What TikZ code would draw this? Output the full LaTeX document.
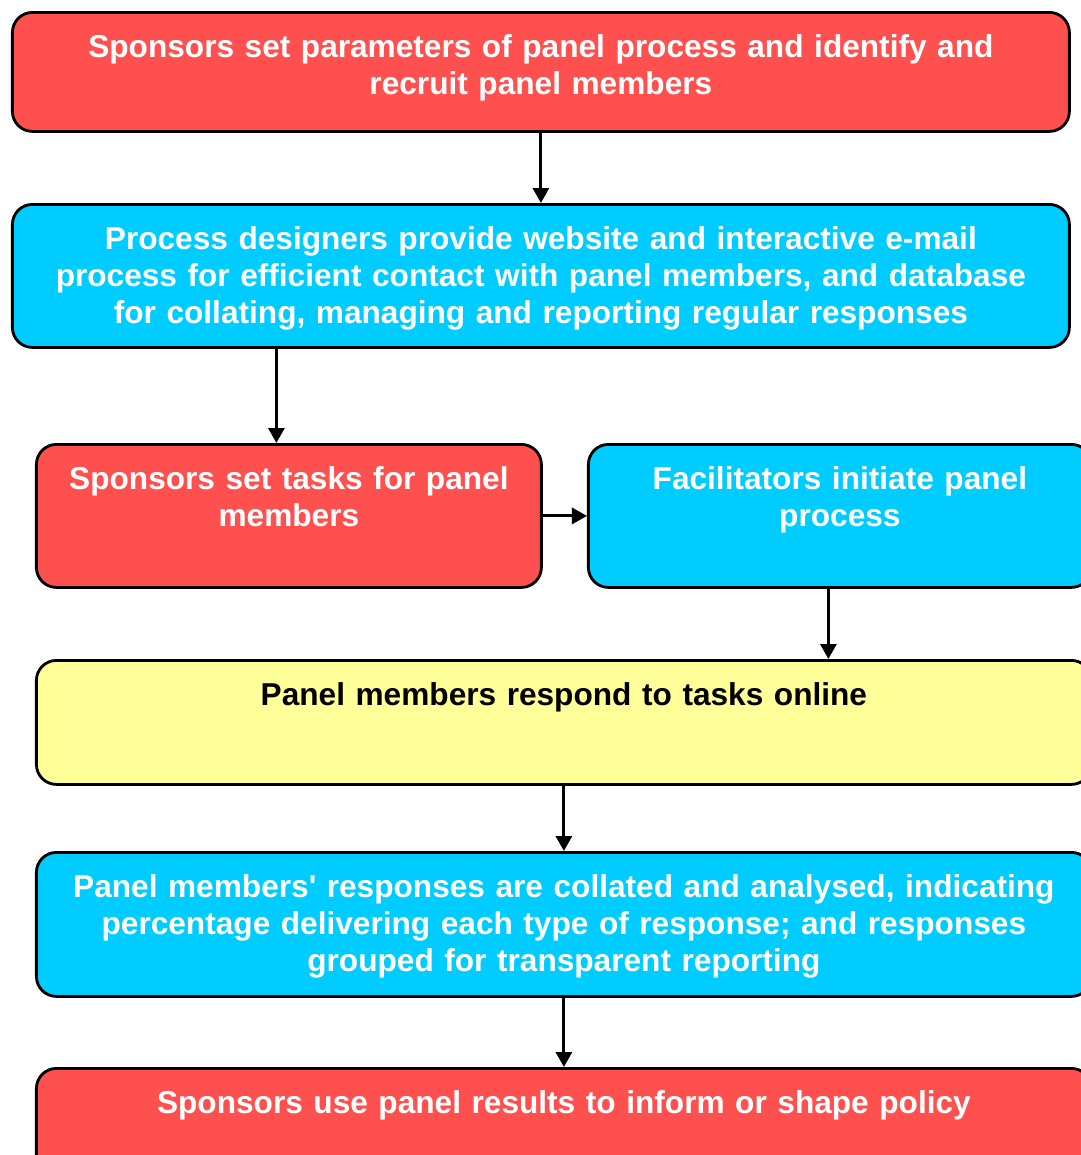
\documentclass[tikz,border=0pt]{standalone}
\usepackage{fontspec}
\setmainfont{Liberation Sans}
\usetikzlibrary{positioning, arrows.meta}
\definecolor{panelred}{HTML}{FF5050}
\definecolor{panelcyan}{HTML}{00CCFF}
\definecolor{panelyellow}{HTML}{FFFF99}
\newcommand{\boxfont}{\fontsize{9pt}{10.5pt}\selectfont\bfseries}

\begin{document}
\begin{tikzpicture}[
		x=0.1mm, y=-0.1mm,
		>={Triangle[length=1.5mm, width=1.6mm]},
		box/.style={draw, thick, rounded corners=2mm, anchor=north west, inner sep=0pt},
		boxtext/.style={anchor=north, yshift=-2.3mm, inner sep=0pt, text width=104mm, align=center, font=\boxfont, text=white},
		link/.style={->, line width=0.3mm},
	]
	\clip (0, 0) rectangle (1081, 1155);

	\node[box, fill=panelred, minimum width=105.7mm, minimum height=11.9mm,
		label={[boxtext]north:{Sponsors set parameters of panel process and identify and\\ recruit panel members}}] (parameters) at (11, 11) {};
	\node[box, fill=panelcyan, minimum width=105.7mm, minimum height=14.3mm,
		label={[boxtext]north:{Process designers provide website and interactive e-mail\\ process for efficient contact with panel members, and database\\ for collating, managing and reporting regular responses}}] (designers) at (11, 203) {};
	\node[box, fill=panelred, minimum width=50.5mm, minimum height=14.3mm,
		label={[boxtext, text width=48mm]north:{Sponsors set tasks for panel\\ members}}] (tasks) at (35, 443) {};
	\node[box, fill=panelcyan, minimum width=50.3mm, minimum height=14.3mm,
		label={[boxtext, text width=48mm]north:{Facilitators initiate panel\\ process}}] (facilitators) at (587, 443) {};
	\node[box, fill=panelyellow, minimum width=105.5mm, minimum height=12.4mm,
		label={[boxtext, text=black]north:{Panel members respond to tasks online}}] (respond) at (35, 659) {};
	\node[box, fill=panelcyan, minimum width=105.5mm, minimum height=14.4mm,
		label={[boxtext]north:{Panel members\textquotesingle{} responses are collated and analysed, indicating\\ percentage delivering each type of response; and responses\\ grouped for transparent reporting}}] (collated) at (35, 851) {};
	\node[box, fill=panelred, minimum width=105.5mm, minimum height=12.4mm,
		label={[boxtext]north:{Sponsors use panel results to inform or shape policy}}] (policy) at (35, 1067) {};

	\draw[link] (parameters.south) -- (designers.north);
	\draw[link] ([xshift=-1.25mm]tasks.north |- designers.south) -- ([xshift=-1.25mm]tasks.north);
	\draw[link] (tasks.east) -- (facilitators.west);
	\draw[link] ([xshift=-1.15mm]facilitators.south) -- ([xshift=-1.15mm]facilitators.south |- respond.north);
	\draw[link] (respond.south) -- (collated.north);
	\draw[link] (collated.south) -- (policy.north);
\end{tikzpicture}
\end{document}
